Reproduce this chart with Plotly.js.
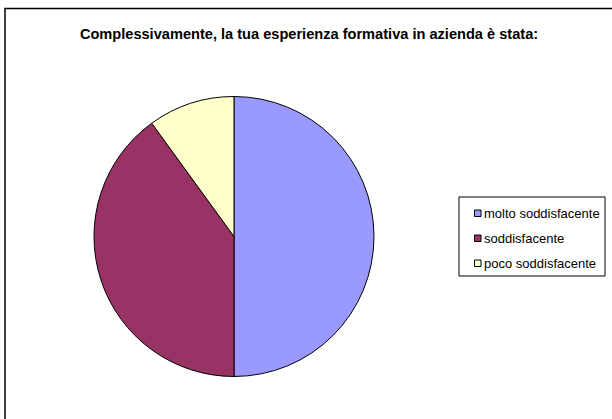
<!DOCTYPE html>
<html>
<head>
<meta charset="utf-8">
<script src="https://cdn.plot.ly/plotly-3.0.1.min.js"></script>
<style>html,body{margin:0;padding:0;background:#fff;}#chart{width:612px;height:419px;}</style>
</head>
<body>
<div id="chart"></div>
<script>
const chartTitle = "Complessivamente, la tua esperienza formativa in azienda è stata:";
const categories = ["molto soddisfacente", "soddisfacente", "poco soddisfacente"];
const values = [50, 40, 10];
const colors = ["#9999FF", "#993366", "#FFFFCC"];

const W = 612, H = 419;
const cx = 234, cy = 236.5, r = 140;
const px = x => x / W;
const py = y => 1 - y / H;

const trace = {
  type: "pie",
  labels: categories,
  values: values,
  sort: false,
  direction: "clockwise",
  rotation: 0,
  textinfo: "none",
  hoverinfo: "label+percent",
  showlegend: false,
  marker: { colors: colors, line: { color: "#000000", width: 1 } },
  domain: { x: [px(cx - r), px(cx + r)], y: [py(cy + r), py(cy - r)] }
};

// Legend drawn as shapes + annotations from the category / colour arrays
const legBox = { x0: 459, x1: 605, y0: 197, y1: 276 };
const legFirstY = 213, legStep = 25;
const shapes = [
  {
    type: "path", xref: "paper", yref: "paper",
    path: "M " + px(5) + " 0 L " + px(5) + " " + py(8.5) + " L 1 " + py(8.5),
    line: { color: "#000000", width: 1.5 }
  },
  {
    type: "rect", xref: "paper", yref: "paper",
    x0: px(legBox.x0), x1: px(legBox.x1), y0: py(legBox.y1), y1: py(legBox.y0),
    line: { color: "#000000", width: 1 }, fillcolor: "#ffffff"
  }
];
const annotations = [];
categories.forEach((name, i) => {
  const yc = legFirstY + i * legStep;
  shapes.push({
    type: "rect", xref: "paper", yref: "paper",
    x0: px(474.5), x1: px(481), y0: py(yc + 3.5), y1: py(yc - 3),
    line: { color: "#000000", width: 1 }, fillcolor: colors[i]
  });
  annotations.push({
    xref: "paper", yref: "paper", x: px(482), y: py(yc),
    xanchor: "left", yanchor: "middle", showarrow: false,
    text: name,
    font: { size: 13, family: "Liberation Sans, Arial, sans-serif", color: "#000" }
  });
});

const layout = {
  width: W, height: H,
  margin: { l: 0, r: 0, t: 0, b: 0 },
  paper_bgcolor: "#ffffff",
  font: { family: "Liberation Sans, Arial, sans-serif", color: "#000000" },
  title: {
    text: "<b>" + chartTitle + "</b>",
    font: { size: 14.6, family: "Liberation Sans, Arial, sans-serif", color: "#000" },
    x: px(309), xanchor: "center", xref: "paper",
    y: py(34), yanchor: "middle", yref: "container"
  },
  showlegend: false,
  shapes: shapes,
  annotations: annotations
};

Plotly.newPlot("chart", [trace], layout, { displayModeBar: false, staticPlot: true });
</script>
</body>
</html>
